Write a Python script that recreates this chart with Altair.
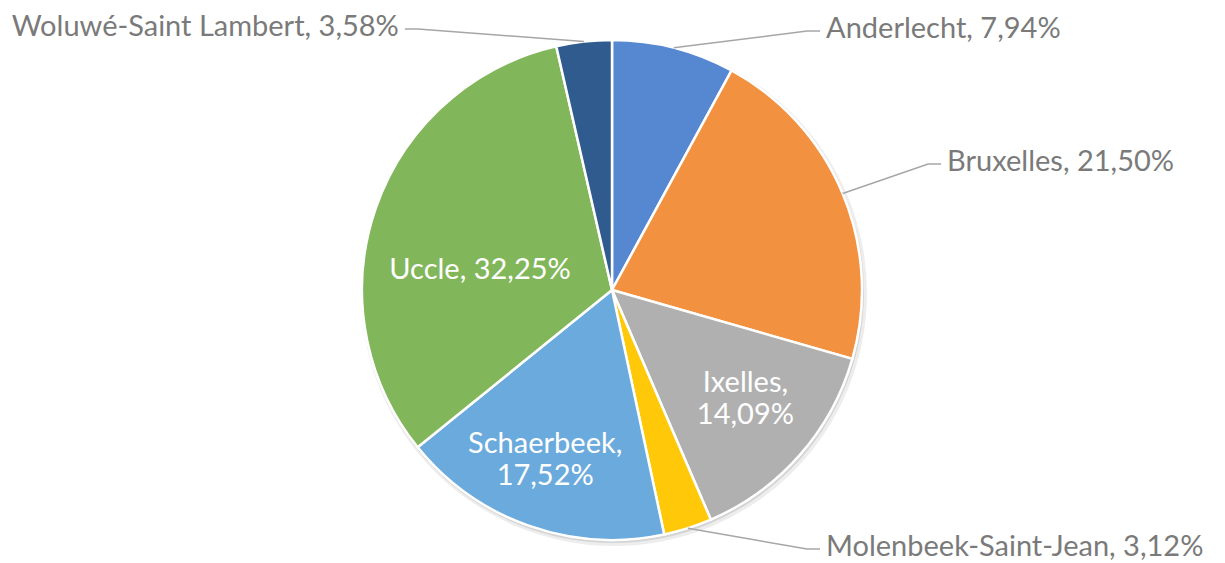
import math
import altair as alt
import pandas as pd

# ---- data ----
names = ["Anderlecht", "Bruxelles", "Ixelles", "Molenbeek-Saint-Jean",
         "Schaerbeek", "Uccle", "Woluwé-Saint Lambert"]
shares = [7.94, 21.50, 14.09, 3.12, 17.52, 32.25, 3.58]
colors = ["#5687D1", "#F29140", "#B0B0B0", "#FFC90A", "#6BAADC", "#82B65A", "#2F5B8E"]

# ---- layout (style, not data) ----
W, H = 1209, 555
CX, CY = 604, 282          # pie centre inside the chart, px
R = 250                    # pie radius, px
FONT = "Lato"
FS = 29
LH = 32
# inside labels: (radius factor, angle adjust deg, line break after name)
inside = {"Ixelles": (0.69, -2.0, True),
          "Schaerbeek": (0.73, 2.0, True),
          "Uccle": (0.534, -10.4, False)}
# outside labels: (elbow radius factor, angle adjust deg, side)
outside = {"Anderlecht": (1.297, 22.7, 1),
           "Bruxelles": (1.361, 1.0, 1),
           "Molenbeek-Saint-Jean": (1.297, -19.3, 1),
           "Woluwé-Saint Lambert": (1.301, -30.2, -1)}
TAIL = 13
GAP = 6


def pct(v):
    return f"{v:.2f}".replace(".", ",") + "%"


total = sum(shares)
cum = 0.0
mids = {}
for n, v in zip(names, shares):
    mids[n] = (cum + v / 2) / total * 360.0
    cum += v


def polar(r, ang):
    a = math.radians(ang)
    return r * math.sin(a), r * math.cos(a)


pie_df = pd.DataFrame({"name": names, "share": shares, "idx": list(range(len(names)))})

line_rows, out_r, out_l, in_one, in_two = [], [], [], [], []
for n, v in zip(names, shares):
    if n in outside:
        rf, adj, side = outside[n]
        x0, y0 = polar(R, mids[n])
        x1, y1 = polar(R * rf, mids[n] + adj)
        x2 = x1 + side * TAIL
        line_rows += [{"name": n, "o": 0, "x": x0, "y": y0},
                      {"name": n, "o": 1, "x": x1, "y": y1},
                      {"name": n, "o": 2, "x": x2, "y": y1}]
        row = {"x": x2 + side * GAP, "y": y1, "label": f"{n}, {pct(v)}"}
        (out_r if side > 0 else out_l).append(row)
    else:
        rf, adj, brk = inside[n]
        x, y = polar(R * rf, mids[n] + adj)
        if brk:
            in_two.append({"x": x, "y": y, "label": f"{n},\n{pct(v)}"})
        else:
            in_one.append({"x": x, "y": y, "label": f"{n}, {pct(v)}"})

lines_df = pd.DataFrame(line_rows)

xs = alt.Scale(domain=[-CX, W - CX], range=[0, W], nice=False, zero=False)
ys = alt.Scale(domain=[-(H - CY), CY], range=[H, 0], nice=False, zero=False)

center_x = alt.XDatum(0, type="quantitative", scale=xs, axis=None)
center_y = alt.YDatum(0, type="quantitative", scale=ys, axis=None)

shadow = alt.Chart(pd.DataFrame({"share": [100]})).mark_arc(
    outerRadius=R + 3, color="#000000", opacity=0.07
).encode(theta=alt.Theta("share:Q"), x=alt.XDatum(2, type="quantitative", scale=xs, axis=None),
         y=alt.YDatum(-3, type="quantitative", scale=ys, axis=None))

shadow2 = alt.Chart(pd.DataFrame({"share": [100]})).mark_arc(
    outerRadius=R + 1, color="#000000", opacity=0.10
).encode(theta=alt.Theta("share:Q"), x=alt.XDatum(1, type="quantitative", scale=xs, axis=None),
         y=alt.YDatum(-2, type="quantitative", scale=ys, axis=None))

pie = alt.Chart(pie_df).mark_arc(
    outerRadius=R, stroke="white", strokeWidth=2.5
).encode(
    theta=alt.Theta("share:Q", stack=True),
    order=alt.Order("idx:Q"),
    color=alt.Color("name:N", scale=alt.Scale(domain=names, range=colors), legend=None),
    x=center_x, y=center_y,
)

leaders = alt.Chart(lines_df).mark_line(color="#A6A6A6", strokeWidth=1.5).encode(
    x=alt.X("x:Q", scale=xs, axis=None),
    y=alt.Y("y:Q", scale=ys, axis=None),
    detail="name:N",
    order="o:Q",
)

txt_kw = dict(font=FONT, fontSize=FS, baseline="middle", lineBreak="\n", lineHeight=LH)


def text_layer(rows, **kw):
    return alt.Chart(pd.DataFrame(rows)).mark_text(**txt_kw, **kw).encode(
        x=alt.X("x:Q", scale=xs, axis=None), y=alt.Y("y:Q", scale=ys, axis=None), text="label:N")


t_right = text_layer(out_r, align="left", color="#7A7A7A", dy=-2)
t_left = text_layer(out_l, align="right", color="#7A7A7A", dy=-2)
t_in1 = text_layer(in_one, align="center", color="#FFFFFF")
t_in2 = text_layer(in_two, align="center", color="#FFFFFF", dy=-LH / 2)

chart = alt.layer(shadow, shadow2, pie, leaders, t_right, t_left, t_in1, t_in2).properties(
    width=W, height=H, padding=0, autosize=alt.AutoSizeParams(type="none"),
    background="white",
).configure_view(stroke=None)

chart.save("out.html", embed_options={"renderer": "svg", "actions": False})
